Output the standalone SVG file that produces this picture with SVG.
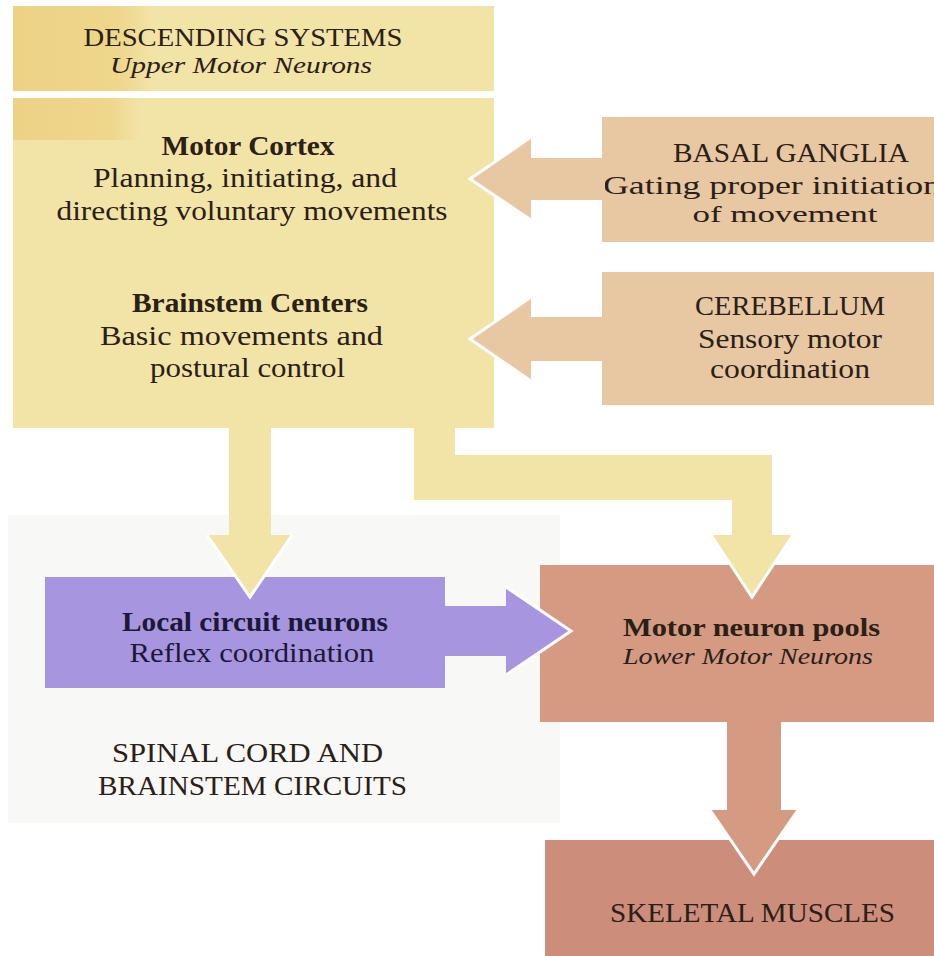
<svg xmlns="http://www.w3.org/2000/svg" width="934" height="956" viewBox="0 0 934 956">
<defs>
<linearGradient id="patch" x1="0" y1="0" x2="1" y2="0">
<stop offset="0" stop-color="#edd286"/>
<stop offset="0.75" stop-color="#eed68b"/>
<stop offset="1" stop-color="#f2e3a7"/>
</linearGradient>
</defs>
<style>
text{font-family:"Liberation Serif","Times New Roman",serif;font-size:27px;fill:#2a2016;text-anchor:middle}
.b{font-weight:bold}
.i{font-style:italic}
.yel{fill:#f2e3a7}
.tan{fill:#e8c7a3}
.pur{fill:#a895e0}
.brn{fill:#d49a82}
.skl{fill:#cd8d7b}
.edge{fill:none;stroke:#ffffff;stroke-width:3;stroke-linejoin:miter}
</style>
<rect width="934" height="956" fill="#ffffff"/>
<rect id="spinal-bg" x="8" y="515" width="552" height="308" fill="#f8f8f6"/>

<g id="descending">
<rect class="yel" x="13" y="6" width="481" height="85"/>
<rect x="13" y="6" width="140" height="85" fill="url(#patch)"/>
<text x="243" y="46" textLength="319" lengthAdjust="spacingAndGlyphs" style="font-size:25px">DESCENDING SYSTEMS</text>
<text class="i" x="241" y="73" textLength="262" lengthAdjust="spacingAndGlyphs" style="font-size:24px">Upper Motor Neurons</text>
</g>

<g id="upper-motor">
<rect class="yel" x="13" y="98" width="481" height="330"/>
<rect x="13" y="98" width="127" height="42" fill="url(#patch)"/>
<text class="b" x="248" y="155" textLength="173" lengthAdjust="spacingAndGlyphs">Motor Cortex</text>
<text x="245" y="187" textLength="304" lengthAdjust="spacingAndGlyphs">Planning, initiating, and</text>
<text x="252" y="220" textLength="391" lengthAdjust="spacingAndGlyphs">directing voluntary movements</text>
<text class="b" x="250" y="312" textLength="236" lengthAdjust="spacingAndGlyphs">Brainstem Centers</text>
<text x="241.5" y="345" textLength="283" lengthAdjust="spacingAndGlyphs">Basic movements and</text>
<text x="247.5" y="377" textLength="195" lengthAdjust="spacingAndGlyphs">postural control</text>
</g>

<g id="basal-ganglia">
<rect class="tan" x="602" y="117" width="332" height="125"/>
<text x="791" y="162" textLength="236" lengthAdjust="spacingAndGlyphs" fill="#3a2a1e">BASAL GANGLIA</text>
<text x="772" y="194" textLength="338" lengthAdjust="spacingAndGlyphs" style="font-size:25px">Gating proper initiation</text>
<text x="785" y="222" textLength="185" lengthAdjust="spacingAndGlyphs" style="font-size:24px">of movement</text>
</g>

<g id="cerebellum">
<rect class="tan" x="602" y="272" width="332" height="133"/>
<text x="790" y="315" textLength="190" lengthAdjust="spacingAndGlyphs">CEREBELLUM</text>
<text x="790" y="348" textLength="184" lengthAdjust="spacingAndGlyphs">Sensory motor</text>
<text x="790" y="378" textLength="160" lengthAdjust="spacingAndGlyphs">coordination</text>
</g>

<g id="local-circuit">
<rect class="pur" x="45" y="577" width="400" height="111"/>
<text class="b" x="255" y="631" textLength="266" lengthAdjust="spacingAndGlyphs" style="fill:#1c1838">Local circuit neurons</text>
<text x="252" y="662" textLength="245" lengthAdjust="spacingAndGlyphs" style="fill:#1c1838">Reflex coordination</text>
</g>

<g id="spinal-label">
<text x="247.5" y="762" textLength="271" lengthAdjust="spacingAndGlyphs" style="font-size:28px">SPINAL CORD AND</text>
<text x="252.5" y="795" textLength="309" lengthAdjust="spacingAndGlyphs" style="font-size:28px">BRAINSTEM CIRCUITS</text>
</g>

<g id="motor-pools">
<rect class="brn" x="540" y="565" width="394" height="157"/>
<text class="b" x="751.5" y="636" textLength="257" lengthAdjust="spacingAndGlyphs" style="font-size:25px">Motor neuron pools</text>
<text class="i" x="748" y="664" textLength="250" lengthAdjust="spacingAndGlyphs" style="font-size:24px">Lower Motor Neurons</text>
</g>

<g id="skeletal">
<rect class="skl" x="545" y="840" width="389" height="116"/>
<text x="752.5" y="922" textLength="285" lengthAdjust="spacingAndGlyphs" style="font-size:28px">SKELETAL MUSCLES</text>
</g>

<g id="connectors">
<polygon class="tan" points="605,158 531,158 531,137 470,179 531,220 531,200 605,200"/>
<polyline class="edge" points="531,137 470,179 531,220"/>
<polygon class="tan" points="605,317 531,317 531,297 470,339 531,381 531,361 605,361"/>
<polyline class="edge" points="531,297 470,339 531,381"/>
<polygon class="yel" points="229,425 271,425 271,535 292,535 250,597 207,535 229,535"/>
<polyline class="edge" points="292,535 250,597 207,535"/>
<polygon class="yel" points="414,425 455,425 455,455 772,455 772,535 793,535 752,597 711,535 732,535 732,500 414,500"/>
<polyline class="edge" points="793,535 752,597 711,535"/>
<polygon class="pur" points="443,606 506,606 506,587 571,631 506,675 506,656 443,656"/>
<polyline class="edge" points="506,587 571,631 506,675"/>
<polygon class="brn" points="727,719 781,719 781,810 798,810 754,874 710,810 727,810"/>
<polyline class="edge" points="798,810 754,874 710,810"/>
</g>
</svg>
